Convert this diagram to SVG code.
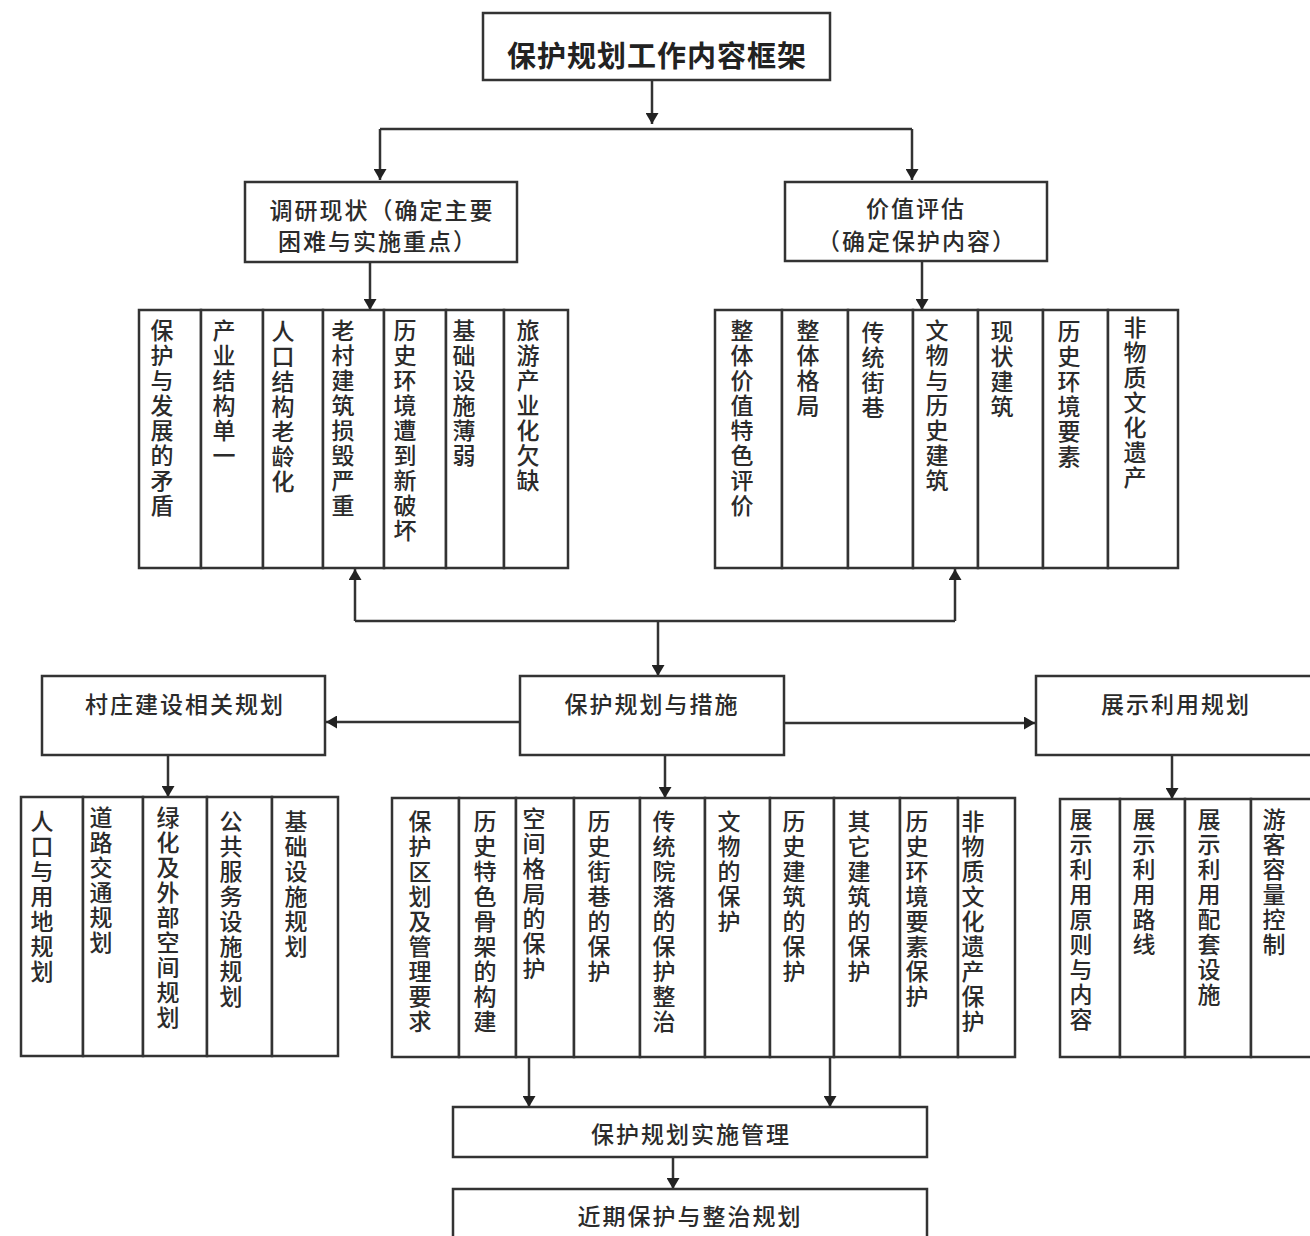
<svg xmlns="http://www.w3.org/2000/svg" width="1310" height="1236" viewBox="0 0 1310 1236">
<style>
.b{fill:#fff;stroke:#333;stroke-width:2.5}
.t{font-family:"Noto Sans CJK SC","Noto Sans",sans-serif;font-size:23px;font-weight:500;fill:#2b2b2b;letter-spacing:2px;text-anchor:middle;dominant-baseline:central}
.title{font-size:29px;font-weight:bold;fill:#222;letter-spacing:1px}
.v{font-family:"Noto Sans CJK SC","Noto Sans",sans-serif;font-size:23px;font-weight:500;fill:#2b2b2b;letter-spacing:2px;writing-mode:vertical-rl}
.c{fill:none;stroke:#333;stroke-width:2.5}
.ar{marker-end:url(#a)}
</style>
<defs>
<marker id="a" markerUnits="userSpaceOnUse" markerWidth="12" markerHeight="13" refX="11" refY="6.5" orient="auto">
<path d="M0,0 L11,6.5 L0,13 z" fill="#222"/>
</marker>
</defs>
<rect width="1310" height="1236" fill="#fff"/>

<g id="connectors">
<path class="c ar" d="M652,80 V124"/>
<path class="c" d="M380,129 H912"/>
<path class="c ar" d="M380,129 V180"/>
<path class="c ar" d="M912,129 V180"/>
<path class="c ar" d="M370,262 V310"/>
<path class="c ar" d="M922,261 V310"/>
<path class="c" d="M355,621 H955"/>
<path class="c ar" d="M355,621 V569"/>
<path class="c ar" d="M955,621 V569"/>
<path class="c ar" d="M658,621 V676"/>
<path class="c ar" d="M520,722 H326"/>
<path class="c ar" d="M784,723 H1035"/>
<path class="c ar" d="M168,755 V797"/>
<path class="c ar" d="M665,755 V798"/>
<path class="c ar" d="M1172,755 V799"/>
<path class="c ar" d="M529,1057 V1107"/>
<path class="c ar" d="M830,1057 V1107"/>
<path class="c ar" d="M673,1157 V1189"/>
</g>

<g id="n-root"><rect class="b" x="483" y="13" width="347" height="67"/><text class="t title" x="657" y="54">保护规划工作内容框架</text></g>
<g id="n-survey"><rect class="b" x="245" y="182" width="272" height="80"/><text class="t" x="382" y="209">调研现状（确定主要</text><text class="t" x="378" y="240">困难与实施重点）</text></g>
<g id="n-value"><rect class="b" x="785" y="182" width="262" height="79"/><text class="t" x="916" y="207">价值评估</text><text class="t" x="917" y="240">（确定保护内容）</text></g>

<g id="n-s1"><rect class="b" x="139" y="310" width="62" height="258"/><text class="v" x="162" y="319">保护与发展的矛盾</text></g>
<g id="n-s2"><rect class="b" x="201" y="310" width="62" height="258"/><text class="v" x="224" y="319">产业结构单一</text></g>
<g id="n-s3"><rect class="b" x="263" y="310" width="60" height="258"/><text class="v" x="283" y="320">人口结构老龄化</text></g>
<g id="n-s4"><rect class="b" x="323" y="310" width="61" height="258"/><text class="v" x="343" y="319">老村建筑损毁严重</text></g>
<g id="n-s5"><rect class="b" x="384" y="310" width="62" height="258"/><text class="v" x="405" y="319">历史环境遭到新破坏</text></g>
<g id="n-s6"><rect class="b" x="446" y="310" width="58" height="258"/><text class="v" x="464" y="319">基础设施薄弱</text></g>
<g id="n-s7"><rect class="b" x="504" y="310" width="64" height="258"/><text class="v" x="528" y="319">旅游产业化欠缺</text></g>

<g id="n-v1"><rect class="b" x="715" y="310" width="67" height="258"/><text class="v" x="742" y="319">整体价值特色评价</text></g>
<g id="n-v2"><rect class="b" x="782" y="310" width="66" height="258"/><text class="v" x="808" y="319">整体格局</text></g>
<g id="n-v3"><rect class="b" x="848" y="310" width="65" height="258"/><text class="v" x="873" y="321">传统街巷</text></g>
<g id="n-v4"><rect class="b" x="913" y="310" width="65" height="258"/><text class="v" x="937" y="319">文物与历史建筑</text></g>
<g id="n-v5"><rect class="b" x="978" y="310" width="65" height="258"/><text class="v" x="1002" y="320">现状建筑</text></g>
<g id="n-v6"><rect class="b" x="1043" y="310" width="65" height="258"/><text class="v" x="1069" y="320">历史环境要素</text></g>
<g id="n-v7"><rect class="b" x="1108" y="310" width="70" height="258"/><text class="v" x="1135" y="316">非物质文化遗产</text></g>

<g id="n-village"><rect class="b" x="42" y="676" width="283" height="79"/><text class="t" x="185" y="703">村庄建设相关规划</text></g>
<g id="n-measures"><rect class="b" x="520" y="676" width="264" height="79"/><text class="t" x="652" y="703">保护规划与措施</text></g>
<g id="n-display"><rect class="b" x="1036" y="676" width="290" height="79"/><text class="t" x="1176" y="703">展示利用规划</text></g>

<g id="n-l1"><rect class="b" x="21" y="797" width="62" height="259"/><text class="v" x="42" y="810">人口与用地规划</text></g>
<g id="n-l2"><rect class="b" x="83" y="797" width="60" height="259"/><text class="v" x="101" y="806">道路交通规划</text></g>
<g id="n-l3"><rect class="b" x="143" y="797" width="64" height="259"/><text class="v" x="168" y="806">绿化及外部空间规划</text></g>
<g id="n-l4"><rect class="b" x="207" y="797" width="65" height="259"/><text class="v" x="231" y="810">公共服务设施规划</text></g>
<g id="n-l5"><rect class="b" x="272" y="797" width="66" height="259"/><text class="v" x="296" y="810">基础设施规划</text></g>

<g id="n-m1"><rect class="b" x="392" y="798" width="67" height="259"/><text class="v" x="420" y="810">保护区划及管理要求</text></g>
<g id="n-m2"><rect class="b" x="459" y="798" width="57" height="259"/><text class="v" x="485" y="810">历史特色骨架的构建</text></g>
<g id="n-m3"><rect class="b" x="516" y="798" width="58" height="259"/><text class="v" x="534" y="807">空间格局的保护</text></g>
<g id="n-m4"><rect class="b" x="574" y="798" width="66" height="259"/><text class="v" x="599" y="810">历史街巷的保护</text></g>
<g id="n-m5"><rect class="b" x="640" y="798" width="65" height="259"/><text class="v" x="664" y="810">传统院落的保护整治</text></g>
<g id="n-m6"><rect class="b" x="705" y="798" width="65" height="259"/><text class="v" x="729" y="810">文物的保护</text></g>
<g id="n-m7"><rect class="b" x="770" y="798" width="64" height="259"/><text class="v" x="794" y="810">历史建筑的保护</text></g>
<g id="n-m8"><rect class="b" x="834" y="798" width="66" height="259"/><text class="v" x="859" y="810">其它建筑的保护</text></g>
<g id="n-m9"><rect class="b" x="900" y="798" width="58" height="259"/><text class="v" x="917" y="810">历史环境要素保护</text></g>
<g id="n-m10"><rect class="b" x="958" y="798" width="57" height="259"/><text class="v" x="973" y="810">非物质文化遗产保护</text></g>

<g id="n-r1"><rect class="b" x="1060" y="799" width="60" height="258"/><text class="v" x="1081" y="808">展示利用原则与内容</text></g>
<g id="n-r2"><rect class="b" x="1120" y="799" width="65" height="258"/><text class="v" x="1144" y="808">展示利用路线</text></g>
<g id="n-r3"><rect class="b" x="1185" y="799" width="66" height="258"/><text class="v" x="1209" y="808">展示利用配套设施</text></g>
<g id="n-r4"><rect class="b" x="1251" y="799" width="75" height="258"/><text class="v" x="1274" y="808">游客容量控制</text></g>

<g id="n-impl"><rect class="b" x="453" y="1107" width="474" height="50"/><text class="t" x="691" y="1133">保护规划实施管理</text></g>
<g id="n-near"><rect class="b" x="453" y="1189" width="474" height="60"/><text class="t" x="690" y="1215">近期保护与整治规划</text></g>
</svg>
